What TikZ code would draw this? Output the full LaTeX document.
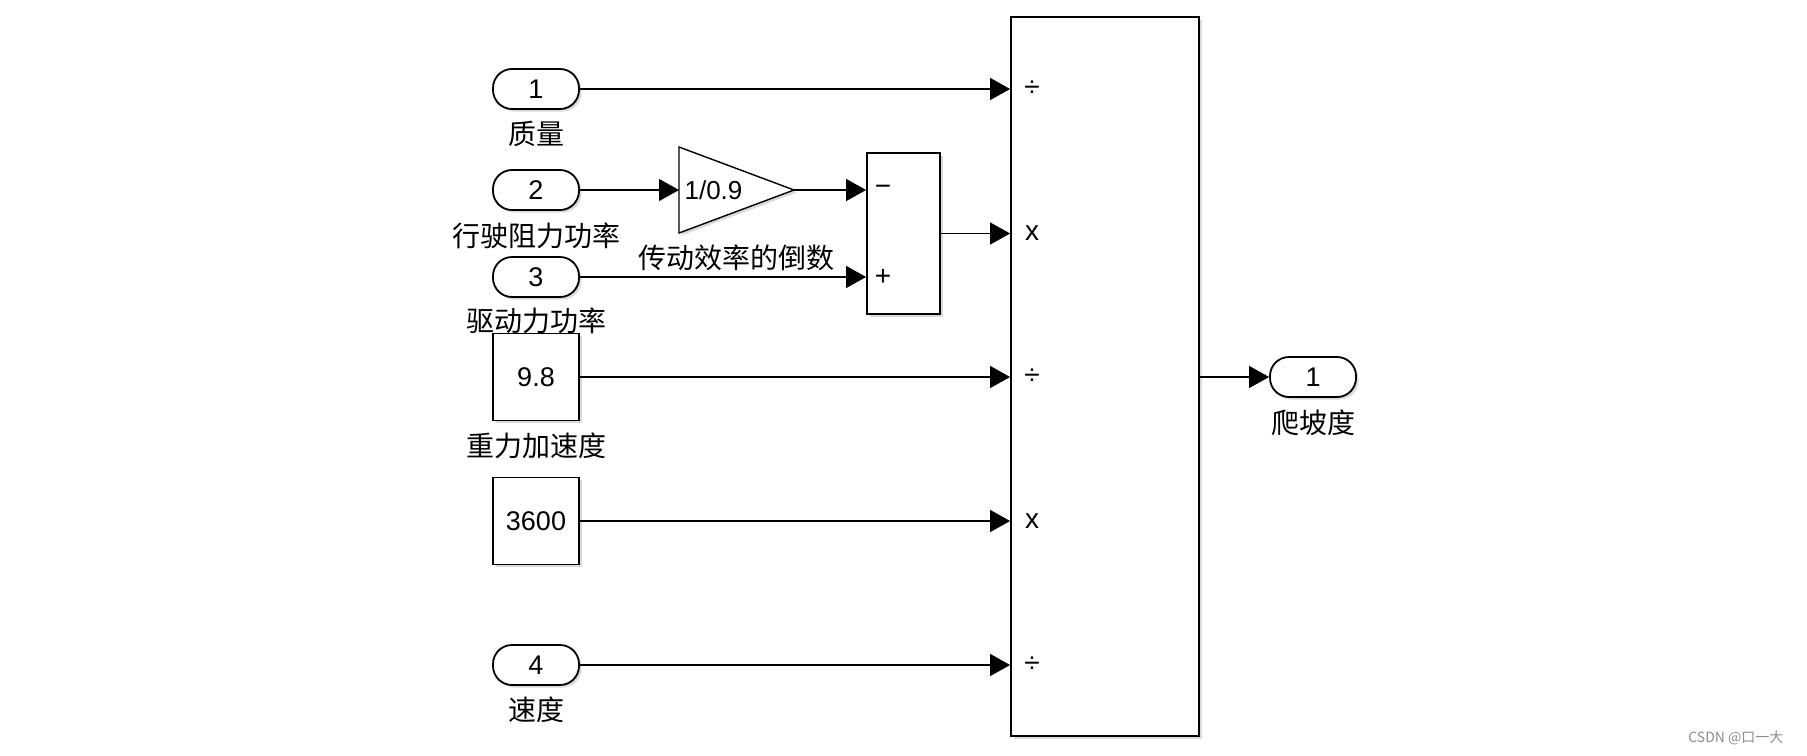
\documentclass[tikz,border=0pt]{standalone}
\usepackage{fontspec}
\setmainfont{Liberation Sans}
\newfontfamily\cjk{Noto Sans CJK SC}
\usetikzlibrary{positioning,arrows.meta,shadows}

\begin{document}
\begin{tikzpicture}[x=1pt,y=-1pt,line width=1.2pt,
    shade/.style={drop shadow={shadow xshift=2.5pt,shadow yshift=-2.5pt,opacity=0.3}},
    blk/.style={draw, line width=1.8pt, fill=white, inner sep=0pt, shade},
    port/.style={blk, rounded corners=19pt, minimum width=86pt, minimum height=40pt, font=\fontsize{27}{30}\selectfont},
    const/.style={blk, minimum width=86pt, minimum height=87pt, font=\fontsize{27}{30}\selectfont},
    lbl/.style={inner sep=0pt, font=\cjk\fontsize{28}{30}\selectfont},
    sgn/.style={inner sep=0pt, font=\fontsize{28}{30}\selectfont},
    sig/.style={-{Triangle[length=20pt,width=22pt]}}
    ]

    \useasboundingbox (0,0) rectangle (1807,755);

    % sources
    \node[port] (in1) at (536,89) {1};
    \node[lbl, below=11pt of in1] (in1-l) {质量};
    \node[port] (in2) at (536,190) {2};
    \node[lbl, below=11pt of in2] (in2-l) {行驶阻力功率};
    \node[port] (in3) at (536,277) {3};
    \node[lbl, below=9pt of in3] (in3-l) {驱动力功率};
    \node[const] (g) at (536,377) {9.8};
    \node[lbl, below=11pt of g] (g-l) {重力加速度};
    \node[const] (k) at (536,521) {3600};
    \node[port] (in4) at (536,665) {4};
    \node[lbl, below=10pt of in4] (in4-l) {速度};

    % gain
    \coordinate (gain-in) at (679,190);
    \coordinate (gain-out) at (794,190);
    \coordinate (gain-b) at (736,233);
    \draw[line width=1.4pt, fill=white, shade] (679,147) -- (gain-out) -- (679,233) -- cycle;
    \node[anchor=west, inner sep=0pt, font=\fontsize{26}{30}\selectfont] (gain-t) at (684,190) {1/0.9};
    \node[lbl, below=11pt of gain-b] (gain-l) {传动效率的倒数};

    % sum
    \node[blk, minimum width=73pt, minimum height=161pt] (sum) at (903.5,233.5) {};
    \node[sgn] (sum-m) at (883,190) {−};
    \node[sgn] (sum-p) at (883,277) {+};

    % product
    \node[blk, minimum width=188pt, minimum height=719pt] (prod) at (1105,376.5) {};
    \foreach \s/\y [count=\i] in {÷/89, x/233, ÷/377, x/521, ÷/665}
        \node[sgn] (prod-\i) at (1032,\y) {\s};

    \node[port] (out1) at (1313,377) {1};
    \node[lbl, below=11pt of out1] (out1-l) {爬坡度};

    % signals
    \draw[sig] (in1) -- (in1 -| prod.west);
    \draw[sig] (in2) -- (gain-in);
    \draw[sig] (gain-out) -- (gain-out -| sum.west);
    \draw[sig] (in3) -- (in3 -| sum.west);
    \draw[sig] (sum) -- (sum -| prod.west);
    \draw[sig] (g) -- (g -| prod.west);
    \draw[sig] (k) -- (k -| prod.west);
    \draw[sig] (in4) -- (in4 -| prod.west);
    \draw[sig] (prod.east |- out1) -- (out1);

    \node[anchor=east, inner sep=0pt, text=black!45, font=\cjk\fontsize{14}{16}\selectfont] (wm) at (1784,738) {CSDN @口一大};
\end{tikzpicture}
\end{document}
